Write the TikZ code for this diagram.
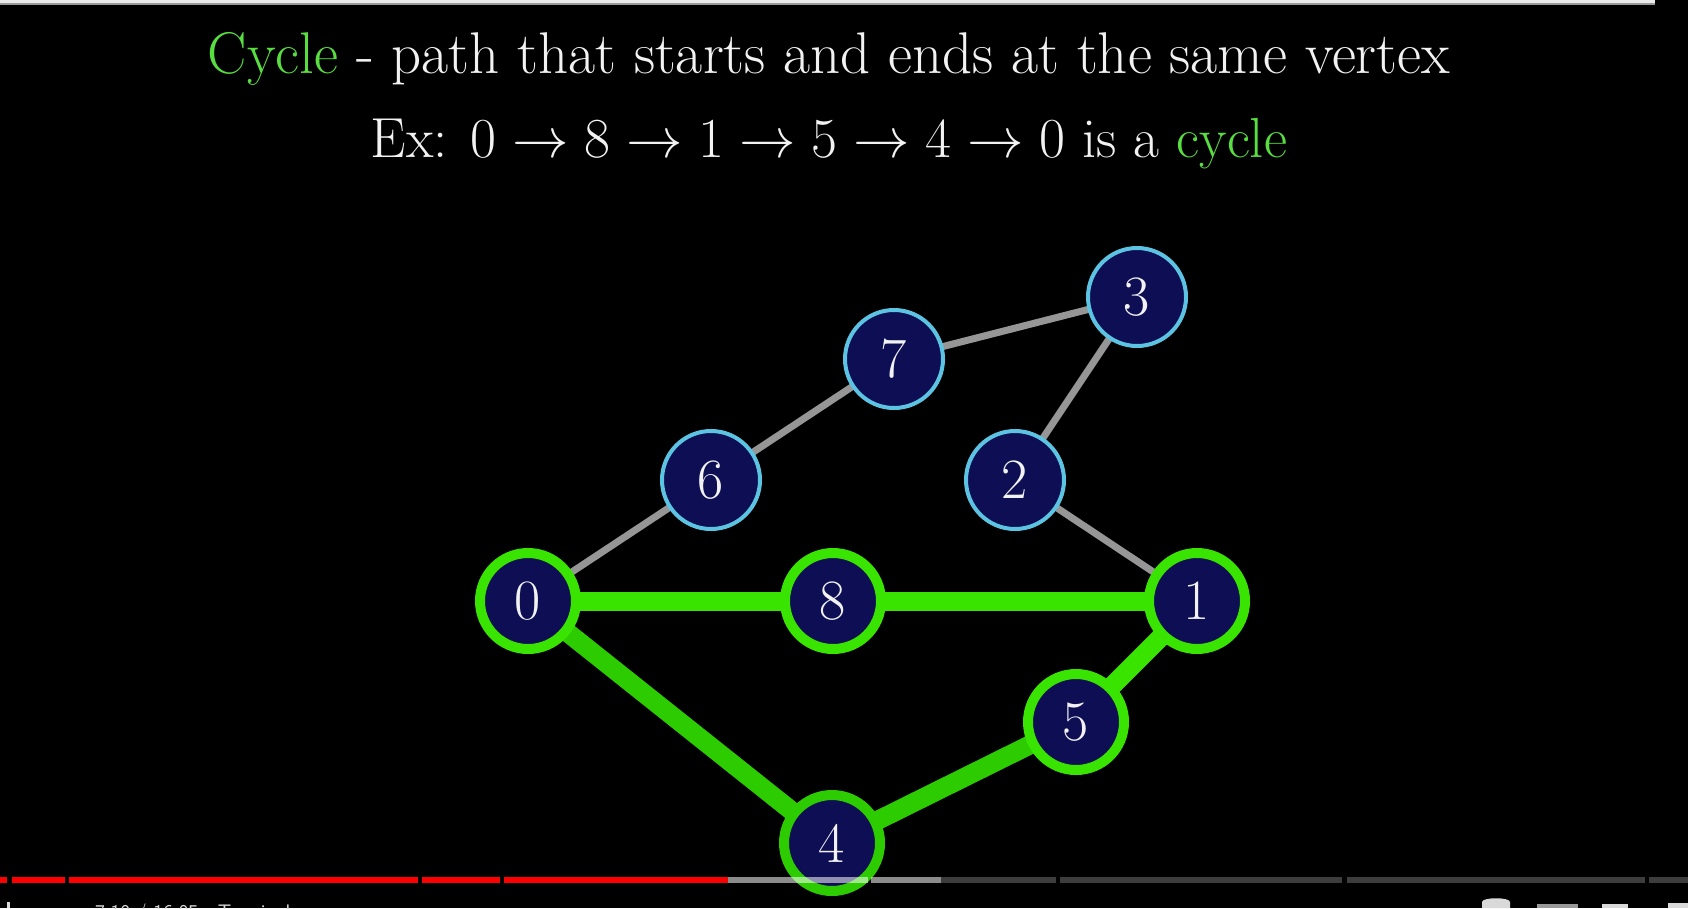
\RequirePackage{fix-cm}
\documentclass[tikz,border=0pt]{standalone}
\usepackage{fontspec}
\usepackage{graphicx}
\pgfdeclarelayer{bg}
\pgfdeclarelayer{edges}
\pgfdeclarelayer{front}
\pgfsetlayers{bg,edges,main,front}
\definecolor{navy}{RGB}{13,14,84}
\definecolor{ringblue}{RGB}{92,196,226}
\definecolor{pathgreen}{RGB}{56,228,0}
\definecolor{pathgreendark}{RGB}{44,204,0}
\definecolor{cyclegreen}{RGB}{88,222,64}
\definecolor{edgegray}{RGB}{150,150,150}
\definecolor{offwhite}{RGB}{242,242,242}
\definecolor{ytred}{RGB}{255,0,0}
\tikzset{
  plainvertex/.style={circle, draw=ringblue, line width=4pt, fill=navy, minimum size=98pt, inner sep=0pt,
     text=offwhite, font=\fontsize{57}{60}\selectfont},
  cyclevertex/.style={circle, draw=pathgreen, line width=10pt, fill=navy, minimum size=96pt, inner sep=0pt,
     text=offwhite, font=\fontsize{57}{60}\selectfont},
  grayedge/.style={draw=edgegray, line width=7pt},
  greenedge/.style={draw=pathgreen, line width=19pt},
  titletext/.style={text=offwhite, font=\fontsize{54}{60}\selectfont, inner sep=0pt, anchor=base},
  redseg/.style={fill=ytred},
  lightseg/.style={fill=white, fill opacity=0.55},
  darkseg/.style={fill=white, fill opacity=0.24}
}
\begin{document}
\begin{tikzpicture}[x=1pt, y=-1pt]
\useasboundingbox (0,0) rectangle (1688,908);
\clip (0,0) rectangle (1688,908);
\begin{pgfonlayer}{bg}
  \fill[black] (0,0) rectangle (1688,908);
  \fill[gray!80] (0,0) rectangle (1655,4.5);
  \fill[white!92!black] (0,0) rectangle (1655,3);
\end{pgfonlayer}

% titles
\node[titletext] (title) at (829,73) {\resizebox{1242pt}{!}{\textcolor{cyclegreen}{Cycle} - path that starts and ends at the same vertex}};
\node[titletext] (example) at (829,157) {\resizebox{916pt}{!}{Ex: $0 \rightarrow 8 \rightarrow 1 \rightarrow 5 \rightarrow 4 \rightarrow 0$ is a \textcolor{cyclegreen}{cycle}}};

% vertices
\node[cyclevertex] (n0) at (528,601) {0};
\node[cyclevertex] (n8) at (833,601) {8};
\node[cyclevertex] (n1) at (1197,601) {1};
\node[cyclevertex] (n5) at (1076,722) {5};
\node[cyclevertex, draw=pathgreendark] (n4) at (832,843) {4};
\node[plainvertex] (n6) at (711,480) {6};
\node[plainvertex] (n7) at (894,359) {7};
\node[plainvertex] (n3) at (1137,297) {3};
\node[plainvertex] (n2) at (1015,480) {2};

% edges
\begin{pgfonlayer}{edges}
  \draw[grayedge] (n0.center) -- (n6.center);
  \draw[grayedge] (n6.center) -- (n7.center);
  \draw[grayedge] (n7.center) -- (n3.center);
  \draw[grayedge] (n3.center) -- (n2.center);
  \draw[grayedge] (n2.center) -- (n1.center);
  \draw[greenedge] (n0.center) -- (n8.center);
  \draw[greenedge] (n8.center) -- (n1.center);
  \draw[greenedge] (n1.center) -- (n5.center);
  \draw[greenedge, draw=pathgreendark] (n5.center) -- (n4.center);
  \draw[greenedge, draw=pathgreendark] (n4.center) -- (n0.center);
\end{pgfonlayer}

% video player bar
\begin{pgfonlayer}{front}
  \fill[redseg] (0,877) rectangle (6.5,883);
  \fill[redseg] (12,877) rectangle (65,883);
  \fill[redseg] (69,877) rectangle (418,883);
  \fill[redseg] (422,877) rectangle (500,883);
  \fill[redseg] (504,877) rectangle (728,883);
  \fill[lightseg] (728,877) rectangle (868,883);
  \fill[lightseg] (871,877) rectangle (941,883);
  \fill[darkseg] (941,877) rectangle (1056,883);
  \fill[darkseg] (1060,877) rectangle (1342,883);
  \fill[darkseg] (1347,877) rectangle (1645,883);
  \fill[darkseg] (1649,877) rectangle (1688,883);
  \node[anchor=north west, inner sep=0pt, text=white!85!black, font=\sffamily\fontsize{21}{24}\selectfont] (timer) at (95,904) {7:10 / 16:05 \ \ Terminology};
  \fill[white!85!black] (7,902) rectangle (10,908);
  \fill[white!85!black] (1482,908) -- (1482,902) .. controls (1482,897) and (1510,897) .. (1510,902) -- (1510,908) -- cycle;
  \fill[white!60!black] (1537,908) rectangle (1578,904);
  \fill[white!85!black] (1602,908) rectangle (1628,904);
  \fill[white!85!black] (1668,908) rectangle (1688,903);
\end{pgfonlayer}
\end{tikzpicture}
\end{document}
